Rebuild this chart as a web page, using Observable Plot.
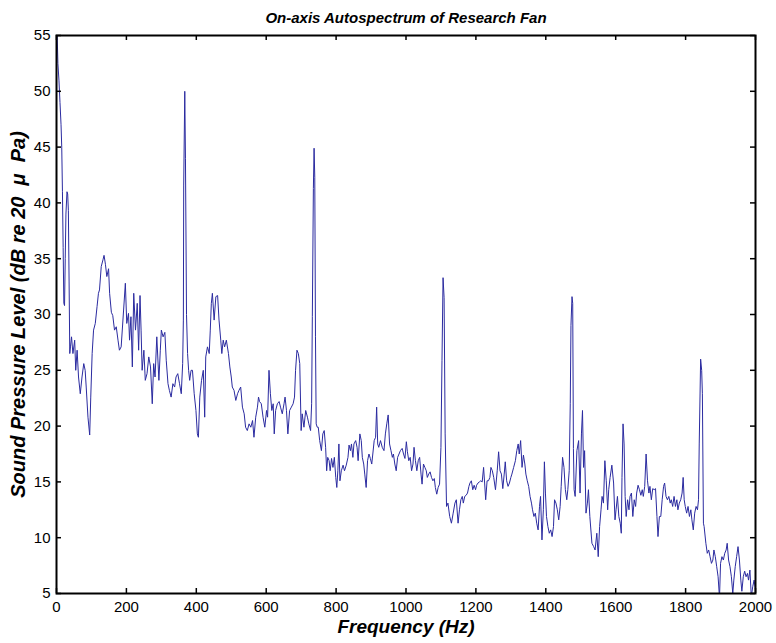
<!DOCTYPE html>
<html>
<head>
<meta charset="utf-8">
<script src="https://cdn.jsdelivr.net/npm/d3@7"></script>
<script src="https://cdn.jsdelivr.net/npm/@observablehq/plot@0.6"></script>
<style>
  body { margin: 0; background: #fff; }
  #chart svg { display: block; }
</style>
</head>
<body>
<div id="chart"></div>
<script>
// Axis ticks
const xTicks = [0, 200, 400, 600, 800, 1000, 1200, 1400, 1600, 1800, 2000];
const yTicks = [5, 10, 15, 20, 25, 30, 35, 40, 45, 50, 55];

// Autospectrum, [frequency Hz, level dB re 20 µPa], split into bands
const band0to380 = [
  [0,55],[2,55],[4,52.5],[7,51],[10,49],[13,47],[15,45],[17,41],[19,36],[21,31],[23,30.8],
  [25,35],[27,39],[30,41],[32,40.8],[34,39.3],[36,33],[38,26.5],[40,27.1],[43,28],[47,26.5],
  [52,27.7],[55,25],[59,26.8],[63,24.4],[68,22.9],[73,24.4],[78,25.6],[82,25],[85,23.5],
  [90,20.8],[95,19.2],[98,22.6],[102,26.5],[106,28.6],[111,29.2],[116,30.7],[120,31.9],
  [123,32.2],[128,34.3],[133,34.9],[136,35.3],[140,34.5],[144,33.4],[149,34.1],[152,31.9],
  [157,30.2],[161,29.9],[166,28.6],[171,28.9],[176,27.7],[180,26.8],[185,27.1],[192,30.4],
  [197,32.8],[201,29.2],[206,30.1],[209,27.7],[213,29.8],[217,25.3],[221,31.9],[226,28.6],
  [231,31],[235,26.8],[239,31.7],[242,28.6],[245,25],[250,26.8],[254,24.1],[259,24.7],
  [264,26.2],[269,25.3],[274,22],[278,25.6],[282,24.4],[287,28],[293,24.1],[297,26.8],
  [300,28.6],[305,28],[310,28.4],[314,25.9],[319,23.8],[323,23.2],[328,22.6],[333,23.8],
  [338,23.5],[342,24.4],[347,24.7],[352,23.8],[357,22.9],[361,25.6],[363,29.5],[364,41.6],
  [367,50],[369,44],[372,30],[375,26.5],[378,25]
];
const band380to750 = [
  [381,24.1],[385,25],[389,25],[394,22.9],[399,21.4],[403,19.3],[406,19],[410,22.6],[415,24.1],
  [420,25],[424,20.8],[427,26.2],[432,27.1],[437,26.5],[440,28.6],[443,31],[446,31.9],
  [451,29.5],[456,31.6],[461,31.7],[465,29.5],[470,27.7],[473,26.5],[477,27.7],[481,27.1],
  [486,27.7],[492,26.5],[496,25.3],[500,24.4],[503,23.5],[508,23.2],[513,22.3],[518,22.9],
  [522,23.2],[527,23.5],[532,21.7],[537,21.1],[541,19.9],[546,19.6],[551,20.2],[556,19.9],
  [561,20.5],[565,19],[570,20.8],[575,21.7],[578,22.6],[581,22.2],[586,22],[591,20.8],
  [596,19.9],[601,21.4],[604,20.8],[608,25],[612,22.9],[616,21.4],[620,22],[623,19.3],
  [627,21.4],[632,22],[637,22.2],[641,21.7],[646,21.1],[651,22],[654,22.6],[658,21.4],
  [662,19.3],[667,21.4],[672,21.7],[677,22],[681,22.6],[684,25],[688,26.8],[692,26.5],
  [696,25.6],[700,19.6],[703,21.1],[708,19.9],[713,21.4],[718,20.8],[722,20.2],[727,19.6],
  [730,22],[732,29.8],[735,41.3],[737,44.9],[739,42.3],[741,28],[743,20.2],[746,19.9]
];
const band750to1120 = [
  [749,19.9],[753,18.7],[758,17.8],[762,19.3],[766,19.6],[770,18.1],[773,16],[776,17.2],
  [780,16.9],[783,16],[787,17.1],[791,16.3],[795,17.2],[799,15.4],[802,14.5],[805,16],
  [808,18.4],[811,15.1],[815,16],[820,16.5],[824,16],[829,16.5],[834,17.2],[837,18.3],
  [841,17.8],[844,18.4],[848,17.2],[851,18.4],[856,18.7],[860,18.1],[863,16.9],[868,19.3],
  [872,18.7],[875,17.2],[879,16.6],[882,15.7],[886,14.5],[890,16.9],[894,17.5],[898,17.1],
  [902,16.6],[905,17.5],[909,18.7],[913,19],[916,21.7],[919,18.4],[922,18.1],[927,18.7],
  [932,18.1],[937,17.8],[941,19.3],[945,20.2],[949,21],[953,18.4],[957,17.8],[961,17.2],
  [964,17.5],[968,16.6],[972,16],[976,17.2],[980,17.5],[984,17.8],[989,18],[993,17.5],
  [997,17.1],[1001,18.6],[1004,17.7],[1008,16.9],[1012,17.2],[1016,16],[1020,16.6],
  [1023,18.1],[1027,16.9],[1031,16],[1035,16.9],[1039,17.2],[1043,15.7],[1046,14.8],
  [1050,16.6],[1054,16.3],[1058,16],[1061,15.4],[1065,15.7],[1069,15.9],[1073,15.4],
  [1077,15.1],[1081,15.3],[1084,14.5],[1088,13.9],[1092,14.5],[1096,14.8],[1100,18.1],
  [1103,25.9],[1106,33.3],[1109,31.5],[1112,19.3],[1116,12.8]
];
const band1120to1530 = [
  [1120,13.1],[1125,11.9],[1130,11.3],[1135,12.2],[1140,13.1],[1144,13.4],[1149,11.3],
  [1153,12.5],[1157,13.4],[1161,13.7],[1164,13.1],[1168,13.7],[1172,13.8],[1176,14],
  [1180,14.6],[1183,14.9],[1187,15.1],[1191,14.3],[1195,14.7],[1199,14.3],[1202,14.7],
  [1206,14.9],[1210,15],[1214,15.1],[1218,15],[1222,16.3],[1225,14.9],[1228,13.4],
  [1232,15.1],[1236,15.1],[1240,15.4],[1243,16.3],[1247,16],[1251,15.4],[1256,14.3],
  [1261,16],[1265,17.7],[1269,16],[1273,15.7],[1277,14.4],[1281,15.7],[1284,16.8],
  [1288,15.1],[1292,14.6],[1296,14.9],[1300,15.4],[1303,15.7],[1308,16.3],[1313,16.9],
  [1317,17.8],[1321,18.4],[1324,17.5],[1328,18.7],[1332,16.3],[1336,17.4],[1340,16.6],
  [1343,15.7],[1347,15.1],[1351,14.6],[1355,13.7],[1359,13.1],[1362,12.5],[1366,11.9],
  [1370,12.2],[1374,11.3],[1378,10.7],[1382,12.8],[1385,13.7],[1389,9.8],[1393,12.5],
  [1396,16.8],[1399,14],[1402,11.9],[1406,11],[1410,10.4],[1414,10.7],[1418,10.1],
  [1422,11],[1425,13.4],[1429,13.1],[1433,12.5],[1437,11.6],[1441,12.8],[1444,14.6],
  [1448,17.2],[1452,16.3],[1456,14.3],[1460,13.4],[1463,14.3],[1467,16],[1470,22],
  [1472,29],[1475,31.6],[1477,31],[1479,18],[1481,14.3],[1484,13.7],[1489,17.8],
  [1494,18.7],[1498,14],[1502,19.3],[1505,21.4],[1508,16.3],[1511,17.8],[1515,12.2],
  [1519,13.1],[1522,14.3],[1526,11.9]
];
const band1530to2000 = [
  [1532,9.5],[1537,9.2],[1541,8.9],[1546,10.4],[1550,8.3],[1554,11],[1558,12.5],[1561,13.7],
  [1565,13.1],[1569,16.9],[1573,15.1],[1577,12.5],[1580,14.3],[1584,15.4],[1589,16.5],
  [1594,14.9],[1598,11.6],[1601,12.5],[1605,13.7],[1609,11.9],[1613,11.3],[1616,10.4],
  [1618,15.4],[1621,20.2],[1624,18.4],[1627,13.7],[1630,11.9],[1634,13.4],[1638,12.5],
  [1641,13.7],[1645,14],[1649,11.9],[1653,13.4],[1657,12.8],[1660,14],[1664,14.7],
  [1668,14.3],[1672,13.8],[1676,14.3],[1679,13.7],[1683,14.6],[1687,17.5],[1691,15.1],
  [1695,14],[1698,14.6],[1702,13.4],[1706,14.4],[1710,14.3],[1714,14.4],[1718,11.9],
  [1721,10.1],[1725,11.9],[1729,11.9],[1733,13.4],[1737,14.6],[1740,14.9],[1744,13.7],
  [1748,13.4],[1752,13.7],[1756,13.1],[1759,13.4],[1763,12.8],[1767,13.7],[1771,12.8],
  [1775,13.4],[1778,12.5],[1782,13.1],[1786,13.4],[1790,14],[1793,15.4],[1796,13.4],
  [1799,12.8],[1803,12.2],[1807,12.8],[1811,11.9],[1815,12.5],[1818,11.6],[1822,10.7],
  [1826,12.2],[1830,12.8],[1834,12.5],[1837,13.4],[1839,18.4],[1843,26],[1846,25],
  [1848,22.9],[1851,11.3],[1853,11],[1858,9.5],[1862,8.6],[1866,8.9],[1870,8.3],[1874,7.7],
  [1878,8],[1881,8.9],[1885,8.3],[1889,7.4],[1893,6.5],[1897,4.6],[1900,7.7],[1904,8.3],
  [1908,8],[1912,8.6],[1916,8.9],[1919,9.5],[1923,8],[1927,7.4],[1931,6.5],[1935,5],
  [1938,6.2],[1942,7.4],[1946,8.3],[1950,9.2],[1954,8],[1958,6.2],[1961,5.2],[1965,6.5],
  [1969,7],[1973,6.5],[1977,6.8],[1980,6.2],[1984,7.1],[1988,4.7],[1992,5.6],[1996,6.2],
  [2000,5.3]
];

const spectrum = [band0to380, band380to750, band750to1120, band1120to1530, band1530to2000]
  .flat()
  .map(([f, db]) => ({f, db}));

const width = 776, height = 643;
const margin = {top: 35, right: 21, bottom: 50, left: 56};
const innerW = width - margin.left - margin.right;
const innerH = height - margin.top - margin.bottom;
const tickLen = 5;
const ink = "#000";

const labelFont = {fontWeight: "bold", fontStyle: "italic", fill: ink, textAnchor: "middle"};

const chart = Plot.plot({
  width, height,
  marginTop: margin.top, marginRight: margin.right,
  marginBottom: margin.bottom, marginLeft: margin.left,
  style: {fontFamily: "'Liberation Sans', Arial, sans-serif", fontSize: "15px", color: ink, background: "#fff"},
  x: {domain: [0, 2000]},
  y: {domain: [5, 55]},
  marks: [
    Plot.line(spectrum, {x: "f", y: "db", stroke: "#2b2ba0", strokeWidth: 1, clip: true}),
    // tick labels
    Plot.axisX(xTicks, {tickSize: 0, tickPadding: 8, label: null, fontSize: 15, tickFormat: d => String(d)}),
    Plot.axisY(yTicks, {tickSize: 0, tickPadding: 6, label: null, fontSize: 15, tickFormat: d => String(d)}),
    // inward ticks on all four sides
    Plot.tickX(xTicks, {x: d => d, insetTop: innerH - tickLen, stroke: ink, strokeWidth: 1.5}),
    Plot.tickX(xTicks, {x: d => d, insetBottom: innerH - tickLen, stroke: ink, strokeWidth: 1.5}),
    Plot.tickY(yTicks, {y: d => d, insetRight: innerW - tickLen, stroke: ink, strokeWidth: 1.5}),
    Plot.tickY(yTicks, {y: d => d, insetLeft: innerW - tickLen, stroke: ink, strokeWidth: 1.5}),
    Plot.frame({stroke: ink, strokeWidth: 2}),
    // title and axis titles
    Plot.text(["On-axis Autospectrum of Research Fan"], {frameAnchor: "top", dy: -23, fontSize: 15, ...labelFont}),
    Plot.text(["Frequency (Hz)"], {frameAnchor: "bottom", dy: 39, fontSize: 19, ...labelFont}),
    Plot.text(["Sound Pressure Level (dB re 20  \u03bc  Pa)"], {frameAnchor: "left", dx: -38, rotate: -90, fontSize: 20, ...labelFont})
  ]
});

document.getElementById("chart").appendChild(chart);
</script>
</body>
</html>
